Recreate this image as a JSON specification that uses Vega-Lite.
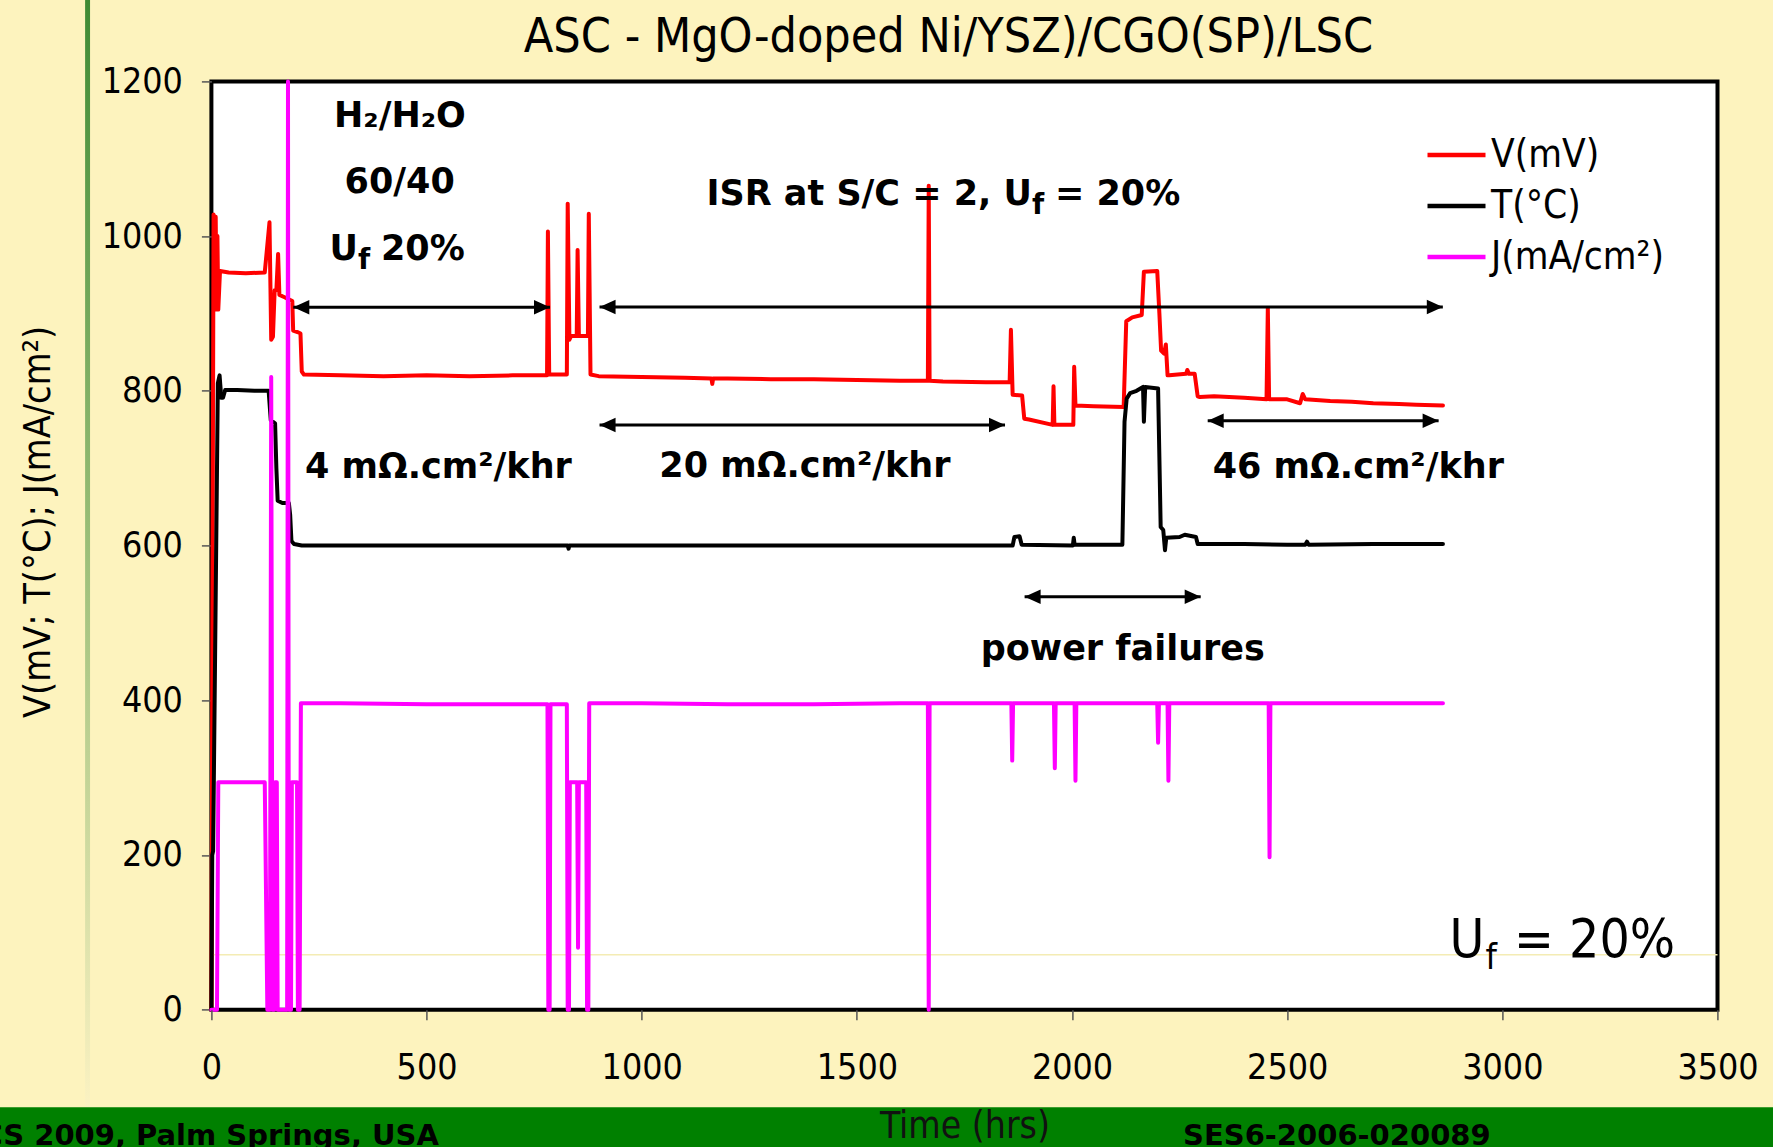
{
  "$schema": "https://vega.github.io/schema/vega-lite/v6.json",
  "width": 1506.1,
  "height": 928.3,
  "autosize": {"type": "none"},
  "padding": {"left": 211.4, "top": 81.4, "right": 55.5, "bottom": 137.3},
  "background": "#FDF3BE",
  "view": {"fill": "white", "stroke": "black", "strokeWidth": 4},
  "config": {"font": "DejaVu Sans Condensed"},
  "title": {
    "text": "ASC - MgO-doped Ni/YSZ)/CGO(SP)/LSC",
    "font": "DejaVu Sans Condensed",
    "fontSize": 48,
    "fontWeight": "normal",
    "color": "black",
    "anchor": "middle",
    "dx": -16,
    "baseline": "alphabetic",
    "offset": -100
  },
  "datasets": {
    "series": [
      {"s": "V(mV)", "t": 0, "v": 0}, {"s": "V(mV)", "t": 5, "v": 1028}, {"s": "V(mV)", "t": 8, "v": 960}, {"s": "V(mV)", "t": 10, "v": 1025},
      {"s": "V(mV)", "t": 12, "v": 905}, {"s": "V(mV)", "t": 14, "v": 1000}, {"s": "V(mV)", "t": 16, "v": 905}, {"s": "V(mV)", "t": 20, "v": 955},
      {"s": "V(mV)", "t": 40, "v": 953}, {"s": "V(mV)", "t": 80, "v": 952}, {"s": "V(mV)", "t": 124, "v": 953}, {"s": "V(mV)", "t": 135, "v": 1018},
      {"s": "V(mV)", "t": 139, "v": 866}, {"s": "V(mV)", "t": 143, "v": 870}, {"s": "V(mV)", "t": 147, "v": 930}, {"s": "V(mV)", "t": 151, "v": 930},
      {"s": "V(mV)", "t": 155, "v": 977}, {"s": "V(mV)", "t": 158, "v": 924}, {"s": "V(mV)", "t": 170, "v": 921}, {"s": "V(mV)", "t": 188, "v": 916},
      {"s": "V(mV)", "t": 190, "v": 878}, {"s": "V(mV)", "t": 200, "v": 876}, {"s": "V(mV)", "t": 207, "v": 874}, {"s": "V(mV)", "t": 210, "v": 825},
      {"s": "V(mV)", "t": 215, "v": 821}, {"s": "V(mV)", "t": 300, "v": 820}, {"s": "V(mV)", "t": 400, "v": 819}, {"s": "V(mV)", "t": 500, "v": 820},
      {"s": "V(mV)", "t": 600, "v": 819}, {"s": "V(mV)", "t": 700, "v": 820}, {"s": "V(mV)", "t": 780, "v": 820}, {"s": "V(mV)", "t": 782, "v": 1006},
      {"s": "V(mV)", "t": 785, "v": 821}, {"s": "V(mV)", "t": 826, "v": 821}, {"s": "V(mV)", "t": 828, "v": 1042}, {"s": "V(mV)", "t": 832, "v": 866},
      {"s": "V(mV)", "t": 836, "v": 871}, {"s": "V(mV)", "t": 849, "v": 871}, {"s": "V(mV)", "t": 851, "v": 982}, {"s": "V(mV)", "t": 854, "v": 871},
      {"s": "V(mV)", "t": 875, "v": 871}, {"s": "V(mV)", "t": 877, "v": 1029}, {"s": "V(mV)", "t": 881, "v": 821}, {"s": "V(mV)", "t": 900, "v": 819},
      {"s": "V(mV)", "t": 1000, "v": 818}, {"s": "V(mV)", "t": 1100, "v": 817}, {"s": "V(mV)", "t": 1162, "v": 816}, {"s": "V(mV)", "t": 1164, "v": 809},
      {"s": "V(mV)", "t": 1166, "v": 816}, {"s": "V(mV)", "t": 1200, "v": 816}, {"s": "V(mV)", "t": 1300, "v": 815}, {"s": "V(mV)", "t": 1400, "v": 815},
      {"s": "V(mV)", "t": 1500, "v": 814}, {"s": "V(mV)", "t": 1600, "v": 813}, {"s": "V(mV)", "t": 1665, "v": 813}, {"s": "V(mV)", "t": 1667, "v": 1065},
      {"s": "V(mV)", "t": 1669, "v": 813}, {"s": "V(mV)", "t": 1700, "v": 812}, {"s": "V(mV)", "t": 1800, "v": 811}, {"s": "V(mV)", "t": 1855, "v": 811},
      {"s": "V(mV)", "t": 1858, "v": 879}, {"s": "V(mV)", "t": 1862, "v": 795}, {"s": "V(mV)", "t": 1884, "v": 794}, {"s": "V(mV)", "t": 1889, "v": 764},
      {"s": "V(mV)", "t": 1900, "v": 763}, {"s": "V(mV)", "t": 1955, "v": 756}, {"s": "V(mV)", "t": 1957, "v": 806}, {"s": "V(mV)", "t": 1959, "v": 756},
      {"s": "V(mV)", "t": 2003, "v": 756}, {"s": "V(mV)", "t": 2005, "v": 831}, {"s": "V(mV)", "t": 2008, "v": 781}, {"s": "V(mV)", "t": 2050, "v": 780},
      {"s": "V(mV)", "t": 2120, "v": 779}, {"s": "V(mV)", "t": 2126, "v": 890}, {"s": "V(mV)", "t": 2140, "v": 895}, {"s": "V(mV)", "t": 2162, "v": 898},
      {"s": "V(mV)", "t": 2167, "v": 954}, {"s": "V(mV)", "t": 2198, "v": 955}, {"s": "V(mV)", "t": 2203, "v": 900}, {"s": "V(mV)", "t": 2207, "v": 852},
      {"s": "V(mV)", "t": 2214, "v": 848}, {"s": "V(mV)", "t": 2218, "v": 860}, {"s": "V(mV)", "t": 2222, "v": 820}, {"s": "V(mV)", "t": 2226, "v": 820},
      {"s": "V(mV)", "t": 2265, "v": 822}, {"s": "V(mV)", "t": 2268, "v": 827}, {"s": "V(mV)", "t": 2272, "v": 822}, {"s": "V(mV)", "t": 2285, "v": 822},
      {"s": "V(mV)", "t": 2292, "v": 793}, {"s": "V(mV)", "t": 2297, "v": 792}, {"s": "V(mV)", "t": 2330, "v": 793}, {"s": "V(mV)", "t": 2400, "v": 791},
      {"s": "V(mV)", "t": 2452, "v": 789}, {"s": "V(mV)", "t": 2455, "v": 907}, {"s": "V(mV)", "t": 2458, "v": 789}, {"s": "V(mV)", "t": 2500, "v": 789},
      {"s": "V(mV)", "t": 2530, "v": 784}, {"s": "V(mV)", "t": 2536, "v": 796}, {"s": "V(mV)", "t": 2542, "v": 789}, {"s": "V(mV)", "t": 2600, "v": 787},
      {"s": "V(mV)", "t": 2650, "v": 786}, {"s": "V(mV)", "t": 2700, "v": 784}, {"s": "V(mV)", "t": 2760, "v": 783}, {"s": "V(mV)", "t": 2800, "v": 782},
      {"s": "V(mV)", "t": 2862, "v": 781},

      {"s": "T(°C)", "t": 0, "v": 0}, {"s": "T(°C)", "t": 2, "v": 200}, {"s": "T(°C)", "t": 4, "v": 205}, {"s": "T(°C)", "t": 15, "v": 810},
      {"s": "T(°C)", "t": 19, "v": 820}, {"s": "T(°C)", "t": 23, "v": 791}, {"s": "T(°C)", "t": 27, "v": 791}, {"s": "T(°C)", "t": 32, "v": 801},
      {"s": "T(°C)", "t": 60, "v": 801}, {"s": "T(°C)", "t": 100, "v": 800}, {"s": "T(°C)", "t": 133, "v": 800}, {"s": "T(°C)", "t": 138, "v": 762},
      {"s": "T(°C)", "t": 148, "v": 758}, {"s": "T(°C)", "t": 151, "v": 700}, {"s": "T(°C)", "t": 154, "v": 658}, {"s": "T(°C)", "t": 165, "v": 655},
      {"s": "T(°C)", "t": 180, "v": 655}, {"s": "T(°C)", "t": 183, "v": 640}, {"s": "T(°C)", "t": 186, "v": 606}, {"s": "T(°C)", "t": 192, "v": 602},
      {"s": "T(°C)", "t": 210, "v": 600}, {"s": "T(°C)", "t": 300, "v": 600}, {"s": "T(°C)", "t": 500, "v": 600}, {"s": "T(°C)", "t": 700, "v": 600},
      {"s": "T(°C)", "t": 828, "v": 600}, {"s": "T(°C)", "t": 830, "v": 596}, {"s": "T(°C)", "t": 832, "v": 600}, {"s": "T(°C)", "t": 1000, "v": 600},
      {"s": "T(°C)", "t": 1200, "v": 600}, {"s": "T(°C)", "t": 1400, "v": 600}, {"s": "T(°C)", "t": 1600, "v": 600}, {"s": "T(°C)", "t": 1862, "v": 600},
      {"s": "T(°C)", "t": 1866, "v": 611}, {"s": "T(°C)", "t": 1878, "v": 612}, {"s": "T(°C)", "t": 1883, "v": 601}, {"s": "T(°C)", "t": 2002, "v": 600},
      {"s": "T(°C)", "t": 2004, "v": 610}, {"s": "T(°C)", "t": 2006, "v": 601}, {"s": "T(°C)", "t": 2117, "v": 601}, {"s": "T(°C)", "t": 2122, "v": 760},
      {"s": "T(°C)", "t": 2127, "v": 790}, {"s": "T(°C)", "t": 2135, "v": 797}, {"s": "T(°C)", "t": 2150, "v": 800}, {"s": "T(°C)", "t": 2165, "v": 805},
      {"s": "T(°C)", "t": 2167, "v": 760}, {"s": "T(°C)", "t": 2170, "v": 805}, {"s": "T(°C)", "t": 2200, "v": 803}, {"s": "T(°C)", "t": 2206, "v": 624},
      {"s": "T(°C)", "t": 2212, "v": 620}, {"s": "T(°C)", "t": 2216, "v": 594}, {"s": "T(°C)", "t": 2219, "v": 610}, {"s": "T(°C)", "t": 2250, "v": 611},
      {"s": "T(°C)", "t": 2262, "v": 614}, {"s": "T(°C)", "t": 2288, "v": 611}, {"s": "T(°C)", "t": 2292, "v": 602}, {"s": "T(°C)", "t": 2400, "v": 602},
      {"s": "T(°C)", "t": 2500, "v": 601}, {"s": "T(°C)", "t": 2542, "v": 601}, {"s": "T(°C)", "t": 2546, "v": 605}, {"s": "T(°C)", "t": 2550, "v": 601},
      {"s": "T(°C)", "t": 2700, "v": 602}, {"s": "T(°C)", "t": 2862, "v": 602},

      {"s": "J(mA/cm²)", "t": 0, "v": 0}, {"s": "J(mA/cm²)", "t": 13, "v": 0}, {"s": "J(mA/cm²)", "t": 16, "v": 294}, {"s": "J(mA/cm²)", "t": 124, "v": 294},
      {"s": "J(mA/cm²)", "t": 130, "v": 0}, {"s": "J(mA/cm²)", "t": 136, "v": 0}, {"s": "J(mA/cm²)", "t": 139, "v": 818}, {"s": "J(mA/cm²)", "t": 142, "v": 0},
      {"s": "J(mA/cm²)", "t": 146, "v": 0}, {"s": "J(mA/cm²)", "t": 148, "v": 294}, {"s": "J(mA/cm²)", "t": 152, "v": 294}, {"s": "J(mA/cm²)", "t": 154, "v": 0},
      {"s": "J(mA/cm²)", "t": 176, "v": 0}, {"s": "J(mA/cm²)", "t": 178, "v": 1200}, {"s": "J(mA/cm²)", "t": 180, "v": 0}, {"s": "J(mA/cm²)", "t": 185, "v": 0},
      {"s": "J(mA/cm²)", "t": 187, "v": 294}, {"s": "J(mA/cm²)", "t": 199, "v": 294}, {"s": "J(mA/cm²)", "t": 201, "v": 0}, {"s": "J(mA/cm²)", "t": 205, "v": 0},
      {"s": "J(mA/cm²)", "t": 208, "v": 396}, {"s": "J(mA/cm²)", "t": 300, "v": 396}, {"s": "J(mA/cm²)", "t": 500, "v": 395}, {"s": "J(mA/cm²)", "t": 700, "v": 395},
      {"s": "J(mA/cm²)", "t": 781, "v": 395}, {"s": "J(mA/cm²)", "t": 783, "v": 0}, {"s": "J(mA/cm²)", "t": 786, "v": 0}, {"s": "J(mA/cm²)", "t": 788, "v": 395},
      {"s": "J(mA/cm²)", "t": 826, "v": 395}, {"s": "J(mA/cm²)", "t": 828, "v": 0}, {"s": "J(mA/cm²)", "t": 831, "v": 0}, {"s": "J(mA/cm²)", "t": 833, "v": 294},
      {"s": "J(mA/cm²)", "t": 850, "v": 294}, {"s": "J(mA/cm²)", "t": 852, "v": 80}, {"s": "J(mA/cm²)", "t": 854, "v": 294}, {"s": "J(mA/cm²)", "t": 871, "v": 294},
      {"s": "J(mA/cm²)", "t": 873, "v": 0}, {"s": "J(mA/cm²)", "t": 876, "v": 0}, {"s": "J(mA/cm²)", "t": 878, "v": 396}, {"s": "J(mA/cm²)", "t": 1000, "v": 396},
      {"s": "J(mA/cm²)", "t": 1200, "v": 395}, {"s": "J(mA/cm²)", "t": 1400, "v": 395}, {"s": "J(mA/cm²)", "t": 1600, "v": 396}, {"s": "J(mA/cm²)", "t": 1665, "v": 396},
      {"s": "J(mA/cm²)", "t": 1667, "v": 0}, {"s": "J(mA/cm²)", "t": 1669, "v": 396}, {"s": "J(mA/cm²)", "t": 1800, "v": 396}, {"s": "J(mA/cm²)", "t": 1859, "v": 396},
      {"s": "J(mA/cm²)", "t": 1861, "v": 322}, {"s": "J(mA/cm²)", "t": 1863, "v": 396}, {"s": "J(mA/cm²)", "t": 1958, "v": 396}, {"s": "J(mA/cm²)", "t": 1960, "v": 312},
      {"s": "J(mA/cm²)", "t": 1962, "v": 396}, {"s": "J(mA/cm²)", "t": 2006, "v": 396}, {"s": "J(mA/cm²)", "t": 2008, "v": 296}, {"s": "J(mA/cm²)", "t": 2010, "v": 396},
      {"s": "J(mA/cm²)", "t": 2198, "v": 396}, {"s": "J(mA/cm²)", "t": 2200, "v": 345}, {"s": "J(mA/cm²)", "t": 2202, "v": 396}, {"s": "J(mA/cm²)", "t": 2222, "v": 396},
      {"s": "J(mA/cm²)", "t": 2224, "v": 296}, {"s": "J(mA/cm²)", "t": 2226, "v": 396}, {"s": "J(mA/cm²)", "t": 2457, "v": 396}, {"s": "J(mA/cm²)", "t": 2459, "v": 197},
      {"s": "J(mA/cm²)", "t": 2461, "v": 396}, {"s": "J(mA/cm²)", "t": 2600, "v": 396}, {"s": "J(mA/cm²)", "t": 2862, "v": 396}
    ],
    "arrows": [
      {"x1": 190.3, "x2": 786.9, "y": 908},
      {"x1": 902, "x2": 2861.7, "y": 908.4},
      {"x1": 902, "x2": 1844.3, "y": 755.8},
      {"x1": 2315.3, "x2": 2851.9, "y": 761.4},
      {"x1": 1889.8, "x2": 2299, "y": 533.9}
    ],
    "notes": [
      {"t": 438.2, "v": 1141.4, "text": "H₂/H₂O"},
      {"t": 437.6, "v": 1055.4, "text": "60/40"},
      {"t": 527.5, "v": 686.9, "text": "4 mΩ.cm²/khr"},
      {"t": 1379.3, "v": 689, "text": "20 mΩ.cm²/khr"},
      {"t": 2665.3, "v": 686.9, "text": "46 mΩ.cm²/khr"},
      {"t": 2118, "v": 452, "text": "power failures"}
    ],
    "subs": [
      {"t": 340.7, "v": 969.1, "pre": "U", "sub": "f", "post": "20%"},
      {"t": 1907, "v": 1040.2, "pre": "ISR at S/C = 2, U", "sub": "f", "post": "= 20%"}
    ],
    "big": [
      {"t": 2958.6, "v": 67.7, "pre": "U", "sub": "f", "post": "= 20%"}
    ],
    "footer": [
      {"t": -534.5, "v": -175, "text": "CS 2009, Palm Springs, USA"},
      {"t": 2258, "v": -175, "text": "SES6-2006-020089"}
    ]
  },
  "layer": [
    {
      "data": {"values": [{}]},
      "mark": {"type": "rect", "fill": "#008000"},
      "encoding": {
        "x": {"datum": -520, "type": "quantitative", "scale": {"domain": [0, 3500], "nice": false, "zero": false}, "title": "Time (hrs)"},
        "x2": {"datum": 3680},
        "y": {"datum": -126, "type": "quantitative", "scale": {"domain": [0, 1200], "nice": false}, "title": "V(mV; T(°C); J(mA/cm²)"},
        "y2": {"datum": -200}
      }
    },
    {
      "data": {"values": [{}]},
      "mark": {"type": "rect", "fill": {"gradient": "linear", "x1": 0, "y1": 0, "x2": 0, "y2": 1, "stops": [{"offset": 0, "color": "#3F8A34"}, {"offset": 0.45, "color": "#93BA72"}, {"offset": 1, "color": "#FBF2C2"}]}},
      "encoding": {
        "x": {"datum": -293.5, "type": "quantitative", "scale": {"domain": [0, 3500], "nice": false, "zero": false}, "title": "Time (hrs)"},
        "x2": {"datum": -282},
        "y": {"datum": 1305.2, "type": "quantitative", "scale": {"domain": [0, 1200], "nice": false}, "title": "V(mV; T(°C); J(mA/cm²)"},
        "y2": {"datum": -125.4}
      }
    },
    {
      "data": {"values": [{}]},
      "mark": {"type": "rule", "color": "#F4ECB4", "strokeWidth": 1.5},
      "encoding": {
        "y": {"datum": 71, "type": "quantitative", "scale": {"domain": [0, 1200], "nice": false}, "title": "V(mV; T(°C); J(mA/cm²)"}
      }
    },
    {
      "data": {"name": "series"},
      "mark": {"type": "line", "strokeWidth": 4, "strokeJoin": "round", "strokeCap": "round"},
      "encoding": {
        "x": {
          "field": "t", "type": "quantitative",
          "scale": {"domain": [0, 3500], "nice": false, "zero": false},
          "title": "Time (hrs)",
          "axis": {
            "values": [0, 500, 1000, 1500, 2000, 2500, 3000, 3500], "format": "d",
            "titleFont": "DejaVu Sans Condensed", "titleFontSize": 37, "titleFontWeight": "normal", "titleColor": "#111111",
            "titleY": 127.3, "titleBaseline": "alphabetic",
            "labelFont": "DejaVu Sans Condensed", "labelFontSize": 35.5, "labelColor": "black", "labelPadding": 30.3,
            "labelFlush": false, "labelOverlap": false, "labelBound": false,
            "tickSize": 10, "tickColor": "#555555", "tickWidth": 1.5, "domain": false, "grid": false, "zindex": 1
          }
        },
        "y": {
          "field": "v", "type": "quantitative",
          "scale": {"domain": [0, 1200], "nice": false},
          "title": "V(mV; T(°C); J(mA/cm²)",
          "axis": {
            "values": [0, 200, 400, 600, 800, 1000, 1200], "format": "d",
            "titleFont": "DejaVu Sans Condensed", "titleFontSize": 37.5, "titleFontWeight": "normal", "titleColor": "black",
            "titleAngle": -90, "titleX": -173, "titleY": 440, "titleAlign": "center", "titleBaseline": "middle",
            "labelFont": "DejaVu Sans Condensed", "labelFontSize": 35.5, "labelColor": "black", "labelPadding": 19,
            "labelFlush": false, "labelOverlap": false, "labelBound": false,
            "tickSize": 10, "tickColor": "#555555", "tickWidth": 1.5, "domain": false, "grid": false
          }
        },
        "color": {
          "field": "s", "type": "nominal",
          "scale": {"domain": ["V(mV)", "T(°C)", "J(mA/cm²)"], "range": ["#FF0000", "#000000", "#FF00FF"]},
          "legend": {
            "orient": "none", "legendX": 1213.6, "legendY": 42, "title": null,
            "symbolType": "stroke", "symbolSize": 3364, "symbolStrokeWidth": 4.5,
            "labelFont": "DejaVu Sans Condensed", "labelFontSize": 38.5, "labelColor": "black", "labelOffset": 3,
            "rowPadding": -7.7, "padding": 0, "labelLimit": 0
          }
        }
      }
    },
    {
      "data": {"name": "arrows"},
      "mark": {"type": "rule", "color": "black", "strokeWidth": 3},
      "encoding": {
        "x": {"field": "x1", "type": "quantitative", "scale": {"domain": [0, 3500], "nice": false, "zero": false}, "title": "Time (hrs)"},
        "x2": {"field": "x2"},
        "y": {"field": "y", "type": "quantitative", "scale": {"domain": [0, 1200], "nice": false}, "title": "V(mV; T(°C); J(mA/cm²)"}
      }
    },
    {
      "data": {"name": "arrows"},
      "mark": {"type": "point", "shape": "M0,0L2,-0.9L2,0.9Z", "filled": true, "color": "black", "opacity": 1, "size": 256, "strokeWidth": 0},
      "encoding": {
        "x": {"field": "x1", "type": "quantitative", "scale": {"domain": [0, 3500], "nice": false, "zero": false}, "title": "Time (hrs)"},
        "y": {"field": "y", "type": "quantitative", "scale": {"domain": [0, 1200], "nice": false}, "title": "V(mV; T(°C); J(mA/cm²)"}
      }
    },
    {
      "data": {"name": "arrows"},
      "mark": {"type": "point", "shape": "M0,0L-2,-0.9L-2,0.9Z", "filled": true, "color": "black", "opacity": 1, "size": 256, "strokeWidth": 0},
      "encoding": {
        "x": {"field": "x2", "type": "quantitative", "scale": {"domain": [0, 3500], "nice": false, "zero": false}, "title": "Time (hrs)"},
        "y": {"field": "y", "type": "quantitative", "scale": {"domain": [0, 1200], "nice": false}, "title": "V(mV; T(°C); J(mA/cm²)"}
      }
    },
    {
      "data": {"name": "notes"},
      "mark": {"type": "text", "font": "DejaVu Sans", "fontWeight": "bold", "fontSize": 35, "color": "black", "align": "center", "baseline": "alphabetic"},
      "encoding": {
        "x": {"field": "t", "type": "quantitative", "scale": {"domain": [0, 3500], "nice": false, "zero": false}, "title": "Time (hrs)"},
        "y": {"field": "v", "type": "quantitative", "scale": {"domain": [0, 1200], "nice": false}, "title": "V(mV; T(°C); J(mA/cm²)"},
        "text": {"field": "text"}
      }
    },
    {
      "data": {"name": "subs"},
      "mark": {"type": "text", "font": "DejaVu Sans", "fontWeight": "bold", "fontSize": 35, "color": "black", "align": "right", "baseline": "alphabetic"},
      "encoding": {
        "x": {"field": "t", "type": "quantitative", "scale": {"domain": [0, 3500], "nice": false, "zero": false}, "title": "Time (hrs)"},
        "y": {"field": "v", "type": "quantitative", "scale": {"domain": [0, 1200], "nice": false}, "title": "V(mV; T(°C); J(mA/cm²)"},
        "text": {"field": "pre"}
      }
    },
    {
      "data": {"name": "subs"},
      "mark": {"type": "text", "font": "DejaVu Sans", "fontWeight": "bold", "fontSize": 28, "color": "black", "align": "left", "baseline": "alphabetic", "dx": 0, "dy": 9},
      "encoding": {
        "x": {"field": "t", "type": "quantitative", "scale": {"domain": [0, 3500], "nice": false, "zero": false}, "title": "Time (hrs)"},
        "y": {"field": "v", "type": "quantitative", "scale": {"domain": [0, 1200], "nice": false}, "title": "V(mV; T(°C); J(mA/cm²)"},
        "text": {"field": "sub"}
      }
    },
    {
      "data": {"name": "subs"},
      "mark": {"type": "text", "font": "DejaVu Sans", "fontWeight": "bold", "fontSize": 35, "color": "black", "align": "left", "baseline": "alphabetic", "dx": 23},
      "encoding": {
        "x": {"field": "t", "type": "quantitative", "scale": {"domain": [0, 3500], "nice": false, "zero": false}, "title": "Time (hrs)"},
        "y": {"field": "v", "type": "quantitative", "scale": {"domain": [0, 1200], "nice": false}, "title": "V(mV; T(°C); J(mA/cm²)"},
        "text": {"field": "post"}
      }
    },
    {
      "data": {"name": "big"},
      "mark": {"type": "text", "font": "DejaVu Sans Condensed", "fontSize": 53, "color": "black", "align": "right", "baseline": "alphabetic"},
      "encoding": {
        "x": {"field": "t", "type": "quantitative", "scale": {"domain": [0, 3500], "nice": false, "zero": false}, "title": "Time (hrs)"},
        "y": {"field": "v", "type": "quantitative", "scale": {"domain": [0, 1200], "nice": false}, "title": "V(mV; T(°C); J(mA/cm²)"},
        "text": {"field": "pre"}
      }
    },
    {
      "data": {"name": "big"},
      "mark": {"type": "text", "font": "DejaVu Sans Condensed", "fontSize": 36, "color": "black", "align": "left", "baseline": "alphabetic", "dx": 1, "dy": 12},
      "encoding": {
        "x": {"field": "t", "type": "quantitative", "scale": {"domain": [0, 3500], "nice": false, "zero": false}, "title": "Time (hrs)"},
        "y": {"field": "v", "type": "quantitative", "scale": {"domain": [0, 1200], "nice": false}, "title": "V(mV; T(°C); J(mA/cm²)"},
        "text": {"field": "sub"}
      }
    },
    {
      "data": {"name": "big"},
      "mark": {"type": "text", "font": "DejaVu Sans Condensed", "fontSize": 53, "color": "black", "align": "left", "baseline": "alphabetic", "dx": 29.5},
      "encoding": {
        "x": {"field": "t", "type": "quantitative", "scale": {"domain": [0, 3500], "nice": false, "zero": false}, "title": "Time (hrs)"},
        "y": {"field": "v", "type": "quantitative", "scale": {"domain": [0, 1200], "nice": false}, "title": "V(mV; T(°C); J(mA/cm²)"},
        "text": {"field": "post"}
      }
    },
    {
      "data": {"name": "footer"},
      "mark": {"type": "text", "font": "DejaVu Sans", "fontWeight": "bold", "fontSize": 29, "color": "black", "align": "left", "baseline": "alphabetic"},
      "encoding": {
        "x": {"field": "t", "type": "quantitative", "scale": {"domain": [0, 3500], "nice": false, "zero": false}, "title": "Time (hrs)"},
        "y": {"field": "v", "type": "quantitative", "scale": {"domain": [0, 1200], "nice": false}, "title": "V(mV; T(°C); J(mA/cm²)"},
        "text": {"field": "text"}
      }
    }
  ]
}
